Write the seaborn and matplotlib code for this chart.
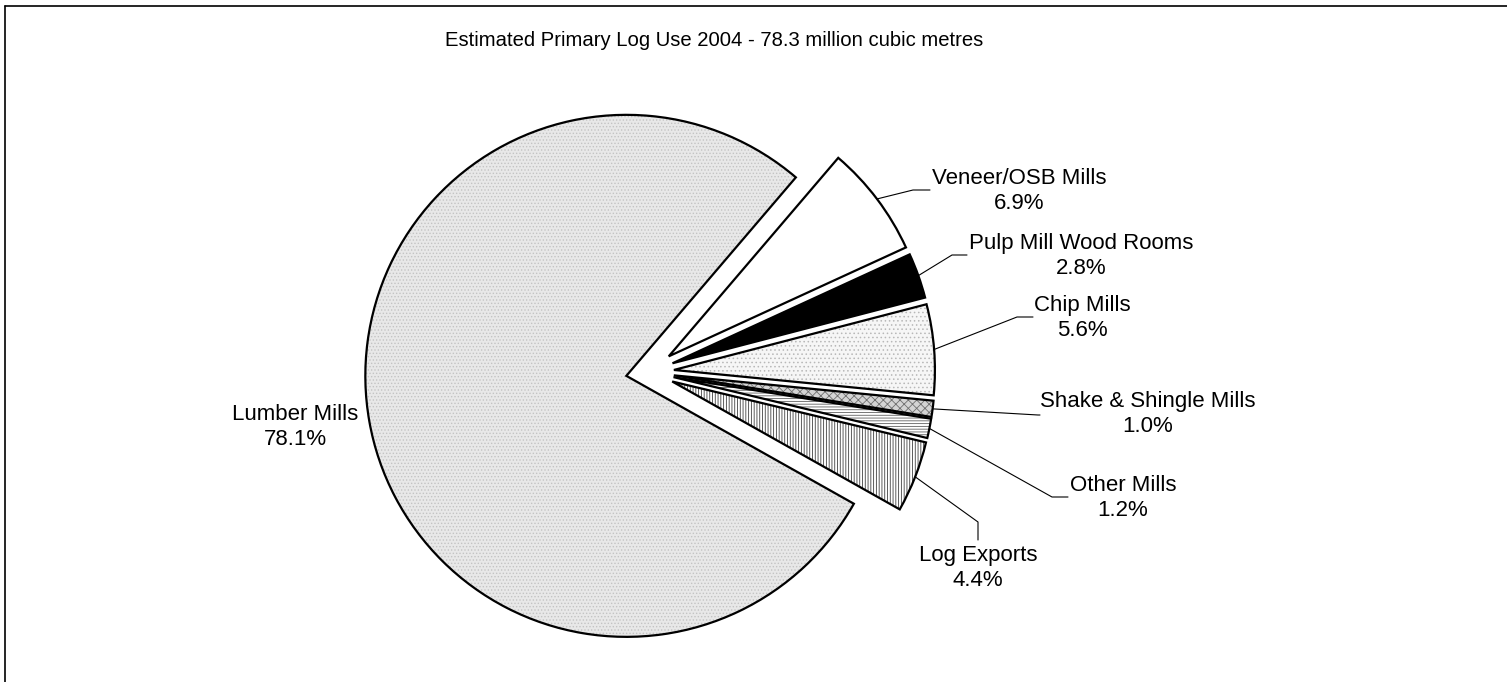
import matplotlib
matplotlib.use('Agg')
import matplotlib.pyplot as plt
import seaborn as sns
import numpy as np

# data (share of primary log use, %)
labels = ['Veneer/OSB Mills', 'Pulp Mill Wood Rooms', 'Chip Mills',
          'Shake & Shingle Mills', 'Other Mills', 'Log Exports', 'Lumber Mills']
shares = [6.9, 2.8, 5.6, 1.0, 1.2, 4.4, 78.1]
title = 'Estimated Primary Log Use 2004 - 78.3 million cubic metres'

sns.set_theme(style='white')
plt.rcParams['font.family'] = ['Liberation Sans', 'DejaVu Sans']

W, H = 1507, 682
fig = plt.figure(figsize=(W / 100, H / 100), dpi=100)
ax = fig.add_axes([0, 0, 1, 1])

# styles for each wedge (face colour, hatch, hatch colour)
faces = ['white', 'black', '#f6f6f6', '#d4d4d4', 'white', 'white', '#e8e8e8']
hatches = [None, None, '....', 'xxxx', '------', '||||||', '.....']
hatch_cols = ['white', 'black', '#b8b8b8', '#707070', '#606060', '#404040', '#c4c4c4']
# explode offsets are in data units (pixels here)
explode = [26, 26, 26, 26, 26, 26, 22]

center = (648, H - 372)
radius = 261
plt.rcParams['hatch.linewidth'] = 0.6

# hatched fill
fill, _ = ax.pie(shares, explode=explode, startangle=49.5, counterclock=False,
                 center=center, radius=radius, frame=True,
                 wedgeprops=dict(linewidth=0))
for w, fc, h, hc in zip(fill, faces, hatches, hatch_cols):
    w.set_facecolor(fc)
    w.set_edgecolor(hc)
    w.set_linewidth(0)
    if h:
        w.set_hatch(h)

# outlines on top
outl, _ = ax.pie(shares, explode=explode, startangle=49.5, counterclock=False,
                 center=center, radius=radius, frame=True,
                 wedgeprops=dict(facecolor='none', edgecolor='black', linewidth=1.6))

# label layout: text centre, leader elbow, leader end (pixels from top-left)
text_pos = [(1019, 191), (1081, 256), (1082, 318), (1148, 414), (1123, 498), (978, 568), (295, 427)]
elbows = [(913, 190), (952, 255), (1017, 317), (1038, 415), (1052, 497), (978, 522), None]
ends = [(930, 190), (967, 255), (1033, 317), (1040, 415), (1068, 497), (978, 540), None]

for w, lab, val, tp, el, en in zip(outl, labels, shares, text_pos, elbows, ends):
    ang = np.deg2rad((w.theta1 + w.theta2) / 2)
    cx, cy = w.center
    sx = cx + w.r * np.cos(ang)
    sy = cy + w.r * np.sin(ang)
    if el is not None:
        ax.plot([sx, el[0], en[0]], [sy, H - el[1], H - en[1]],
                color='black', linewidth=0.8, solid_joinstyle='miter')
    ax.text(tp[0], H - tp[1], f'{lab}\n{val:.1f}%', ha='center', va='center',
            multialignment='center', fontsize=16, linespacing=1.2, color='black')

ax.text(714, H - 40, title, ha='center', va='center', fontsize=14.6, color='black')

# chart frame (left and top edges visible)
ax.plot([5, 5], [0, H - 6], color='black', linewidth=1.2)
ax.plot([5, W], [H - 6, H - 6], color='black', linewidth=1.2)

ax.set_xlim(0, W)
ax.set_ylim(0, H)
ax.set_aspect('equal')
ax.axis('off')

fig.savefig('out.png', dpi=100)
